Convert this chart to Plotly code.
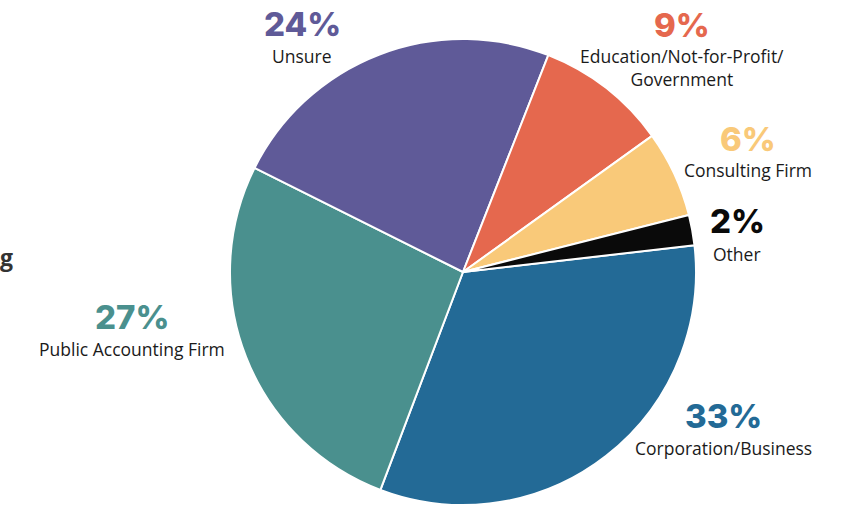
import plotly.graph_objects as go

# ---- data ----
categories = ["Corporation/Business", "Public Accounting Firm", "Unsure",
              "Education/Not-for-Profit/<br>Government", "Consulting Firm", "Other"]
values = [32.6, 26.6, 23.6, 9.1, 6.0, 2.1]
colors = ["#236a96", "#4a908e", "#5f5a98", "#e5684e", "#f9c979", "#0a0a0a"]

W, H = 853, 506
cx, cy, r = 463, 272, 233

fig = go.Figure(go.Pie(
    labels=categories,
    values=values,
    sort=False,
    direction="clockwise",
    rotation=83.4,
    marker=dict(colors=colors, line=dict(color="white", width=2)),
    textinfo="none",
    hoverinfo="label+percent",
    showlegend=False,
    domain=dict(x=[(cx - r) / W, (cx + r) / W], y=[1 - (cy + r) / H, 1 - (cy - r) / H]),
))

# label layout (pixel centres: x, percent line y, category line y)
label_pos = [
    (723, 416, 448),
    (132, 317, 349),
    (302, 24, 56),
    (682, 25, 67),
    (748, 139, 170),
    (737, 221, 254),
]

total = sum(values)
for cat, v, col, (x, yp, yl) in zip(categories, values, colors, label_pos):
    pct = f"{round(v / total * 100)}%"
    fig.add_annotation(x=x / W, y=1 - yp / H, xref="paper", yref="paper",
                       text=pct, showarrow=False, xanchor="center", yanchor="middle",
                       font=dict(family="Inter", size=33, color=col, weight=800))
    fig.add_annotation(x=x / W, y=1 - yl / H, xref="paper", yref="paper",
                       text=cat, showarrow=False, xanchor="center", yanchor="middle",
                       font=dict(family="Open Sans", size=17.5, color="#1a1a1a"))

# partially visible text at the left edge
fig.add_annotation(x=0, y=1 - 257 / H, xref="paper", yref="paper",
                   text="g", showarrow=False, xanchor="left", yanchor="middle",
                   xshift=-2,
                   font=dict(family="Open Sans", size=23, color="#333333", weight=700))

fig.update_layout(width=W, height=H, margin=dict(l=0, r=0, t=0, b=0),
                  paper_bgcolor="white", plot_bgcolor="white")
fig.write_html("out.html", config={"displayModeBar": False},
               post_script="document.body.style.margin='0';document.body.style.padding='0';")
